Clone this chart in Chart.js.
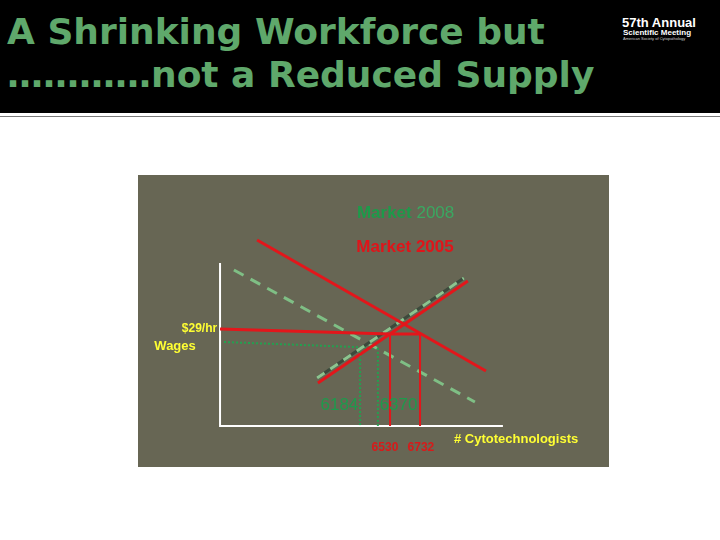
<!DOCTYPE html>
<html>
<head>
<meta charset="utf-8">
<script src="https://cdn.jsdelivr.net/npm/chart.js@4/dist/chart.umd.min.js"></script>
<style>
  body { margin: 0; width: 720px; height: 540px; background: #fff; position: relative; overflow: hidden; font-family: "Liberation Sans", Arial, sans-serif; }
  #header { position: absolute; left: 0; top: 0; width: 720px; height: 113px; background: #000; }
  #rule { position: absolute; left: 0; top: 116px; width: 720px; height: 1px; background: #7a7a7a; }
  .title { position: absolute; left: 7px; color: #5fa86b; font-family: "DejaVu Sans", Verdana, sans-serif; font-weight: bold; font-size: 36px; white-space: nowrap; }
  #logo { position: absolute; left: 604px; top: 16px; color: #fff; font-family: "Liberation Sans", Arial, sans-serif; font-weight: bold; line-height: 1; }
  #box { position: absolute; left: 138px; top: 175px; width: 471px; height: 292px; background: #676654; }
</style>
</head>
<body>
<div id="header"></div>
<div id="rule"></div>
<div class="title" style="top:11px;">A Shrinking Workforce but</div>
<div class="title" style="top:54px;">…………not a Reduced Supply</div>
<div id="logo">
  <div style="font-size:13px; padding-left:18px;">57th Annual</div>
  <div style="font-size:8px; padding-left:19px;">Scientific Meeting</div>
  <div style="font-size:4px; font-weight:normal; padding-left:19px; color:#ccc;">American Society of Cytopathology</div>
</div>
<div id="box"><canvas id="marketChart"></canvas></div>
<script>
// schematic axes units: quantity 0-100, wage 0-100
const axisLine = [{x: 0, y: 100}, {x: 0, y: 0}, {x: 100, y: 0}];
const demand2005 = [{x: 13.1, y: 114.1}, {x: 94.0, y: 33.7}];
const supply2005 = [{x: 34.6, y: 26.4}, {x: 87.6, y: 89.0}];
const demand2008 = [{x: 4.9, y: 95.7}, {x: 90.1, y: 14.7}];
const supply2008 = [{x: 34.3, y: 29.4}, {x: 86.2, y: 90.8}];
const wage2005 = [{x: 0, y: 59.5}, {x: 60.1, y: 56.4}, {x: 70.7, y: 56.4}];
const qty2005a = [{x: 60.1, y: 56.4}, {x: 60.1, y: 0}];
const qty2005b = [{x: 70.7, y: 56.4}, {x: 70.7, y: 0}];
const wage2008 = [{x: 1.4, y: 51.5}, {x: 55.8, y: 47.9}];
const qty2008a = [{x: 49.5, y: 48.4}, {x: 49.5, y: 0}];
const qty2008b = [{x: 55.8, y: 47.9}, {x: 55.8, y: 0}];

// labels: text, anchor (data units), colour, font, alignment
const labels = [
  {text: '6184', x: 42.2, y: 12.9, color: '#1e9a4c', font: '17px "Liberation Sans"', align: 'center'},
  {text: '6370', x: 63.1, y: 12.9, color: '#1e9a4c', font: '17px "Liberation Sans"', align: 'center'},
  {text: '6530', x: 58.3, y: -13.5, color: '#d81a1a', font: 'bold 12px "Liberation Sans"', align: 'center'},
  {text: '6732', x: 71.0, y: -13.5, color: '#d81a1a', font: 'bold 12px "Liberation Sans"', align: 'center'},
  {text: '$29/hr', x: -1, y: 59.5, color: '#ffff33', font: 'bold 12px "Liberation Sans"', align: 'right'},
  {text: 'Wages', x: -15.9, y: 48.5, color: '#ffff33', font: 'bold 13px "Liberation Sans"', align: 'center'},
  {text: '# Cytotechnologists', x: 82.7, y: -8.3, color: '#ffff33', font: 'bold 13px "Liberation Sans"', align: 'left'},
  {text: 'Market 2005', x: 65.4, y: 109.5, color: '#e0141a', font: 'bold 17px "Liberation Sans"', align: 'center'}
];

const annotationPlugin = {
  id: 'annotations',
  afterDatasetsDraw(chart) {
    const ctx = chart.ctx;
    const xs = chart.scales.x, ys = chart.scales.y;
    ctx.save();
    ctx.textBaseline = 'middle';
    labels.forEach(l => {
      ctx.font = l.font;
      ctx.fillStyle = l.color;
      ctx.textAlign = l.align;
      ctx.fillText(l.text, xs.getPixelForValue(l.x), ys.getPixelForValue(l.y));
    });
    // two-tone "Market 2008"
    const cx = xs.getPixelForValue(65.6), cy = ys.getPixelForValue(130.5);
    ctx.font = 'bold 17px "Liberation Sans"';
    const w1 = ctx.measureText('Market ').width;
    ctx.font = '17px "Liberation Sans"';
    const w2 = ctx.measureText('2008').width;
    const left = cx - (w1 + w2) / 2;
    ctx.textAlign = 'left';
    ctx.font = 'bold 17px "Liberation Sans"';
    ctx.fillStyle = '#1d9a4a';
    ctx.fillText('Market ', left, cy);
    ctx.font = '17px "Liberation Sans"';
    ctx.fillStyle = '#3aa861';
    ctx.fillText('2008', left + w1, cy);
    ctx.restore();
  }
};

// 'order' decides drawing: higher order is drawn first (underneath)
function line(data, color, width, order, dash) {
  return {
    data: data.map(p => ({x: p.x, y: p.y})),
    showLine: true,
    borderColor: color,
    borderWidth: width,
    borderDash: dash || [],
    order: order,
    pointRadius: 0,
    fill: false,
    tension: 0
  };
}

const ctx = document.getElementById('marketChart').getContext('2d');
new Chart(ctx, {
  type: 'scatter',
  data: {
    datasets: [
      line(axisLine, '#ffffff', 2, 12),
      line(wage2008, '#24a050', 2, 11, [2, 2]),
      line(qty2008a, '#24a050', 2, 10, [2, 2]),
      line(qty2008b, '#24a050', 2, 9, [2, 2]),
      line(demand2008, '#7fbf85', 3, 8, [11, 8]),
      line(supply2008, '#3c4a3c', 3, 7),
      line(supply2008, '#8cc48f', 3, 6, [9, 7]),
      line(demand2005, '#e3161b', 3, 5),
      line(supply2005, '#e3161b', 3, 4),
      line(wage2005, '#e3161b', 3, 3),
      line(qty2005a, '#e3161b', 2, 2),
      line(qty2005b, '#e3161b', 2, 1)
    ]
  },
  options: {
    responsive: true,
    maintainAspectRatio: false,
    animation: false,
    layout: { padding: 0 },
    plugins: { legend: { display: false }, tooltip: { enabled: false } },
    scales: {
      x: { type: 'linear', min: -29, max: 137.5, display: false },
      y: { type: 'linear', min: -25.2, max: 154, display: false }
    }
  },
  plugins: [annotationPlugin]
});
</script>
</body>
</html>
